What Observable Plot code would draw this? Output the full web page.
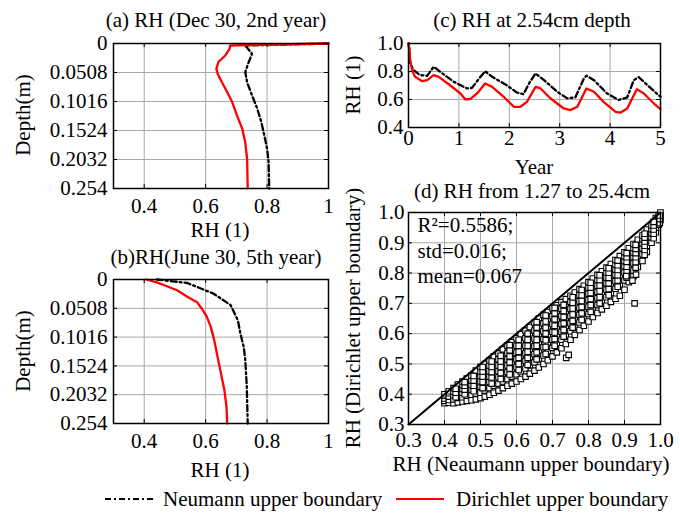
<!DOCTYPE html>
<html><head><meta charset="utf-8">
<script src="https://cdn.jsdelivr.net/npm/d3@7"></script>
<script src="https://cdn.jsdelivr.net/npm/@observablehq/plot@0.6"></script>
<style>
body{margin:0;background:#fff;}
#wrap{position:relative;width:680px;height:515px;font-family:'Liberation Serif','DejaVu Serif',serif;color:#000;overflow:hidden;background:#fff}
.pnl{position:absolute}
.lbl{position:absolute;white-space:nowrap;font-size:21px;line-height:1;font-family:'Liberation Serif','DejaVu Serif',serif;}
</style></head>
<body><div id="wrap"></div>
<script>
// ---------- data ----------
// (a) Dec 30, 2nd year: RH vs depth
const aDepthN = [0, 0.0035, 0.018, 0.033, 0.050, 0.068, 0.091, 0.114, 0.137, 0.161, 0.184, 0.207, 0.254];
const aRHN    = [1.0, 0.729, 0.751, 0.740, 0.729, 0.735, 0.751, 0.768, 0.781, 0.791, 0.800, 0.805, 0.807];
const aDepthD = [0, 0.0035, 0.0094, 0.021, 0.032, 0.044, 0.053, 0.068, 0.085, 0.102, 0.126, 0.149, 0.173, 0.202, 0.254];
const aRHD    = [1.0, 0.680, 0.678, 0.664, 0.642, 0.635, 0.639, 0.653, 0.670, 0.686, 0.702, 0.719, 0.729, 0.735, 0.737];
// (b) June 30, 5th year
const bDepthN = [0, 0.006, 0.025, 0.045, 0.072, 0.095, 0.119, 0.142, 0.189, 0.254];
const bRHN    = [0.441, 0.539, 0.626, 0.681, 0.705, 0.713, 0.724, 0.729, 0.734, 0.737];
const bDepthD = [0, 0.005, 0.012, 0.019, 0.030, 0.040, 0.052, 0.066, 0.084, 0.107, 0.137, 0.166, 0.195, 0.225, 0.254];
const bRHD    = [0.407, 0.441, 0.474, 0.507, 0.539, 0.572, 0.588, 0.604, 0.617, 0.628, 0.639, 0.650, 0.661, 0.668, 0.670];
// (c) RH at 2.54 cm depth vs year
const cYearN = [0, 0.02, 0.03, 0.10, 0.23, 0.37, 0.50, 0.63, 0.90, 1.16, 1.26, 1.40, 1.52, 1.66, 1.95, 2.15, 2.28, 2.41, 2.52, 2.69, 2.95, 3.15, 3.31, 3.48, 3.53, 3.68, 3.94, 4.17, 4.34, 4.47, 4.57, 4.74, 4.97, 5.0];
const cRHN   = [1.0, 0.95, 0.864, 0.81, 0.774, 0.769, 0.834, 0.798, 0.726, 0.679, 0.683, 0.75, 0.802, 0.762, 0.702, 0.650, 0.638, 0.726, 0.786, 0.738, 0.655, 0.608, 0.615, 0.75, 0.770, 0.738, 0.643, 0.597, 0.615, 0.738, 0.760, 0.702, 0.628, 0.620];
const cYearD = [0, 0.02, 0.03, 0.07, 0.13, 0.27, 0.37, 0.50, 0.60, 0.83, 1.03, 1.13, 1.23, 1.36, 1.52, 1.66, 1.89, 2.09, 2.22, 2.35, 2.52, 2.62, 2.82, 3.08, 3.21, 3.35, 3.53, 3.68, 3.87, 4.11, 4.21, 4.34, 4.53, 4.67, 4.87, 5.0];
const cRHD   = [1.0, 0.95, 0.89, 0.81, 0.762, 0.731, 0.738, 0.774, 0.762, 0.70, 0.643, 0.600, 0.605, 0.643, 0.714, 0.69, 0.619, 0.548, 0.548, 0.583, 0.69, 0.679, 0.607, 0.536, 0.524, 0.548, 0.679, 0.655, 0.583, 0.512, 0.507, 0.536, 0.674, 0.643, 0.571, 0.531];
// (d) scatter: Neumann RH (column x) vs Dirichlet RH
const scX = [0.400,0.412,0.425,0.437,0.450,0.462,0.475,0.487,0.500,0.512,0.525,0.537,0.550,0.562,0.575,0.587,0.600,0.612,0.625,0.637,0.650,0.662,0.675,0.687,0.700,0.712,0.725,0.737,0.750,0.762,0.775,0.787,0.800,0.812,0.825,0.837,0.850,0.862,0.875,0.887,0.900,0.912,0.925,0.937,0.950,0.962,0.975,0.987,0.995,1.000];
const scY = [
 [0.370,0.378,0.386,0.395,0.400],
 [0.372,0.381,0.392,0.403,0.410],
 [0.370,0.383,0.396,0.408,0.420],
 [0.373,0.388,0.400,0.414,0.425,0.432],
 [0.376,0.390,0.405,0.418,0.430,0.442],
 [0.378,0.395,0.410,0.424,0.438,0.452],
 [0.380,0.398,0.415,0.430,0.445,0.462],
 [0.383,0.402,0.420,0.437,0.452,0.470,0.478],
 [0.387,0.405,0.425,0.443,0.460,0.475,0.490],
 [0.392,0.412,0.432,0.450,0.468,0.485,0.500],
 [0.398,0.420,0.440,0.458,0.476,0.495,0.512],
 [0.405,0.428,0.448,0.467,0.485,0.505,0.524],
 [0.412,0.435,0.456,0.476,0.495,0.515,0.535],
 [0.420,0.442,0.465,0.485,0.505,0.525,0.548],
 [0.428,0.450,0.473,0.495,0.515,0.536,0.560],
 [0.435,0.458,0.482,0.505,0.526,0.548,0.572],
 [0.442,0.466,0.490,0.515,0.537,0.560,0.585],
 [0.450,0.475,0.500,0.525,0.548,0.572,0.598],
 [0.458,0.485,0.510,0.535,0.560,0.585,0.610],
 [0.468,0.495,0.520,0.546,0.572,0.597,0.622],
 [0.478,0.505,0.532,0.558,0.584,0.610,0.636],
 [0.488,0.516,0.543,0.570,0.596,0.622,0.650],
 [0.500,0.528,0.555,0.582,0.608,0.634,0.662],
 [0.512,0.540,0.567,0.594,0.620,0.646,0.672],
 [0.525,0.553,0.580,0.606,0.632,0.658,0.684],
 [0.538,0.566,0.593,0.619,0.645,0.670,0.694],
 [0.552,0.580,0.606,0.632,0.658,0.682,0.704],
 [0.566,0.594,0.620,0.645,0.670,0.694,0.714],
 [0.580,0.608,0.634,0.658,0.682,0.705,0.725],
 [0.596,0.622,0.648,0.672,0.695,0.716,0.736],
 [0.612,0.637,0.662,0.685,0.707,0.728,0.747],
 [0.626,0.651,0.675,0.698,0.720,0.740,0.758],
 [0.640,0.665,0.689,0.711,0.732,0.752,0.770],
 [0.655,0.680,0.703,0.725,0.745,0.764,0.782],
 [0.668,0.694,0.717,0.738,0.758,0.777,0.794],
 [0.680,0.707,0.731,0.752,0.771,0.789,0.806],
 [0.692,0.720,0.745,0.766,0.785,0.802,0.818],
 [0.705,0.734,0.759,0.780,0.798,0.815,0.830],
 [0.715,0.748,0.773,0.794,0.812,0.828,0.843],
 [0.725,0.762,0.788,0.808,0.826,0.841,0.856],
 [0.745,0.776,0.802,0.822,0.840,0.855,0.869],
 [0.770,0.792,0.817,0.837,0.854,0.869,0.882],
 [0.790,0.808,0.832,0.852,0.868,0.883,0.896],
 [0.820,0.847,0.867,0.883,0.897,0.910],
 [0.840,0.862,0.882,0.898,0.912,0.924],
 [0.870,0.890,0.906,0.920,0.933,0.944],
 [0.900,0.918,0.932,0.945,0.957],
 [0.935,0.950,0.962,0.973,0.982],
 [0.960,0.972,0.983,0.992],
 [0.975,0.988,1.000]
];
// denser core of the band (between the columns above)
const coreX = [0.431,0.456,0.481,0.506,0.531,0.556,0.581,0.606,0.631,0.656,0.681,0.706,0.731,0.756,0.781,0.806,0.831,0.856,0.881,0.906,0.931,0.956,0.981,0.998];
const coreY = [
 [0.390,0.405,0.418],
 [0.400,0.415,0.428,0.440],
 [0.410,0.428,0.445,0.460],
 [0.420,0.440,0.458,0.475,0.490],
 [0.435,0.455,0.473,0.490,0.508],
 [0.450,0.470,0.490,0.508,0.527],
 [0.465,0.485,0.505,0.525,0.545,0.562],
 [0.480,0.500,0.520,0.540,0.560,0.580],
 [0.497,0.520,0.540,0.560,0.580,0.600],
 [0.515,0.538,0.560,0.580,0.600,0.620,0.638],
 [0.533,0.556,0.578,0.600,0.620,0.640,0.660],
 [0.560,0.582,0.604,0.626,0.647,0.667,0.685],
 [0.590,0.612,0.634,0.655,0.675,0.695],
 [0.620,0.642,0.663,0.683,0.702,0.720],
 [0.645,0.667,0.688,0.708,0.727,0.744],
 [0.672,0.694,0.714,0.734,0.752,0.768],
 [0.700,0.720,0.740,0.759,0.777,0.793],
 [0.727,0.747,0.766,0.784,0.801,0.816],
 [0.755,0.775,0.793,0.810,0.826,0.841],
 [0.785,0.804,0.821,0.837,0.852,0.866],
 [0.818,0.836,0.852,0.866,0.880,0.893],
 [0.860,0.876,0.890,0.904,0.917,0.930],
 [0.915,0.930,0.944,0.957,0.969],
 [0.965,0.978,0.990]
];
const outX = [0.738, 0.745, 0.905, 0.922, 0.932, 0.928];
const outY = [0.520, 0.530, 0.790, 0.775, 0.795, 0.700];
const diag = [0.3, 1.0];
const statsText = "R²=0.5586;\nstd=0.016;\nmean=0.067";
// tick values
const rhTicksAB = [0.4, 0.6, 0.8, 1];
const depthTicks = [0, 0.0508, 0.1016, 0.1524, 0.2032, 0.254];
const yearTicks = [0, 1, 2, 3, 4, 5];
const rhTicksC = [0.4, 0.6, 0.8, 1.0];
const rhTicksD = [0.3, 0.4, 0.5, 0.6, 0.7, 0.8, 0.9, 1.0];

// ---------- build tables ----------
const zip = (xs, ys) => xs.map((x, i) => ({x, y: ys[i]}));
const cols = (xs, yss) => xs.flatMap((x, i) => yss[i].map(y => ({x, y})));
const scatter = cols(scX, scY).concat(cols(coreX, coreY), zip(outX, outY));

const RED = "#ff0000";
const dashDot = "6,3,2,3";
const FONT = "'Liberation Serif', 'DejaVu Serif', serif";
const wrap = document.getElementById("wrap");

function panel(c) {
  const innerW = c.width - c.ml - c.mr, innerH = c.height - c.mt - c.mb;
  const gridStyle = {stroke: "#a8a8a8", strokeOpacity: 1, strokeWidth: 1};
  const svg = Plot.plot({
    width: c.width, height: c.height,
    marginTop: c.mt, marginRight: c.mr, marginBottom: c.mb, marginLeft: c.ml,
    style: {fontFamily: FONT, fontSize: "21px", color: "black", background: "transparent", overflow: "visible"},
    x: {domain: c.xDomain},
    y: {domain: c.yDomain, reverse: !!c.yReverse},
    marks: [
      Plot.gridX(c.xTicks, gridStyle),
      Plot.gridY(c.yTicks, gridStyle),
      ...c.marks,
      Plot.ruleX(c.xTicks, {x: d => d, insetTop: innerH - 4, stroke: "black"}),
      Plot.ruleX(c.xTicks, {x: d => d, insetBottom: innerH - 4, stroke: "black"}),
      Plot.ruleY(c.yTicks, {y: d => d, insetRight: innerW - 4, stroke: "black"}),
      Plot.ruleY(c.yTicks, {y: d => d, insetLeft: innerW - 4, stroke: "black"}),
      Plot.frame({stroke: "black", strokeWidth: 1.5}),
      Plot.axisX(c.xTicks, {anchor: "bottom", tickSize: 0, tickPadding: c.xPad, tickFormat: c.xFmt, fontSize: 21, fontFamily: FONT, label: null}),
      Plot.axisY(c.yTicks, {anchor: "left", tickSize: 0, tickPadding: c.yPad, tickFormat: c.yFmt, fontSize: 21, fontFamily: FONT, label: null})
    ]
  });
  const div = document.createElement("div");
  div.className = "pnl";
  div.style.left = c.left + "px"; div.style.top = c.top + "px";
  div.style.width = c.width + "px"; div.style.height = c.height + "px";
  div.appendChild(svg);
  wrap.appendChild(div);
}

function text(t, x, y, rot, size) {
  const d = document.createElement("div");
  d.className = "lbl";
  d.textContent = t;
  d.style.left = x + "px"; d.style.top = y + "px";
  if (size) d.style.fontSize = size + "px";
  d.style.transform = "translate(-50%,-50%)" + (rot ? " rotate(" + rot + "deg)" : "");
  wrap.appendChild(d);
}

const depthFmt = d => String(d);
const lineN = (xs, ys) => Plot.line(zip(xs, ys), {x: "x", y: "y", stroke: "black", strokeWidth: 2.3, strokeDasharray: dashDot});
const lineD = (xs, ys) => Plot.line(zip(xs, ys), {x: "x", y: "y", stroke: RED, strokeWidth: 2.3});

// (a)
panel({left: 0, top: 30, width: 340, height: 190, mt: 13, mr: 12, mb: 32, ml: 113,
  xDomain: [0.3, 1], yDomain: [0, 0.254], yReverse: true,
  xTicks: rhTicksAB, yTicks: depthTicks, xFmt: d => String(d), yFmt: depthFmt, xPad: 10, yPad: 6,
  marks: [lineN(aRHN, aDepthN), lineD(aRHD, aDepthD)]});
// (b)
panel({left: 0, top: 266, width: 340, height: 189, mt: 13, mr: 12, mb: 32, ml: 113,
  xDomain: [0.3, 1], yDomain: [0, 0.254], yReverse: true,
  xTicks: rhTicksAB, yTicks: depthTicks, xFmt: d => String(d), yFmt: depthFmt, xPad: 10, yPad: 6,
  marks: [lineN(bRHN, bDepthN), lineD(bRHD, bDepthD)]});
// (c)
panel({left: 340, top: 30, width: 340, height: 129, mt: 13, mr: 20, mb: 32, ml: 68,
  xDomain: [0, 5], yDomain: [0.4, 1.0],
  xTicks: yearTicks, yTicks: rhTicksC, xFmt: d => String(d), yFmt: d => d.toFixed(1), xPad: 3, yPad: 5,
  marks: [lineN(cYearN, cRHN), lineD(cYearD, cRHD)]});
// (d)
panel({left: 340, top: 200, width: 340, height: 256, mt: 12, mr: 20, mb: 32, ml: 68,
  xDomain: [0.3, 1.0], yDomain: [0.3, 1.0],
  xTicks: rhTicksD, yTicks: rhTicksD, xFmt: d => d.toFixed(1), yFmt: d => d.toFixed(1), xPad: 8, yPad: 4,
  marks: [
    Plot.dot(scatter, {x: "x", y: "y", symbol: "square", r: 3.1, fill: "white", stroke: "#000", strokeWidth: 1.1}),
    Plot.line(diag, {x: d => d, y: d => d, stroke: "black", strokeWidth: 2}),
    Plot.text([statsText], {text: d => d, frameAnchor: "top-left", dx: 9, dy: 2, textAnchor: "start", lineAnchor: "top", lineHeight: 1.2, fontSize: 21, fontFamily: FONT, fill: "black"})
  ]});

// titles & axis labels
text("(a) RH (Dec 30, 2nd year)", 216, 20);
text("RH (1)", 220, 230);
text("Depth(m)", 23, 115, -90);
text("(b)RH(June 30, 5th year)", 216, 257);
text("RH (1)", 220, 470);
text("Depth(m)", 23, 351, -90);
text("(c) RH at 2.54cm depth", 532, 20);
text("Year", 534, 167);
text("RH (1)", 353, 85, -90);
text("(d) RH from 1.27 to 25.4cm", 532, 191);
text("RH (Neaumann upper boundary)", 531, 464);
text("RH (Dirichlet upper boundary)", 353, 318, -90);

// legend
const leg = document.createElement("div");
leg.style.cssText = "position:absolute;left:0;top:486px;width:680px;height:26px;";
leg.innerHTML =
  '<svg width="680" height="26" style="position:absolute;left:0;top:0">' +
  '<line x1="105" x2="156" y1="13" y2="13" stroke="black" stroke-width="2.2" stroke-dasharray="' + dashDot + '"/>' +
  '<line x1="396" x2="444" y1="13" y2="13" stroke="' + RED + '" stroke-width="2.2"/></svg>' +
  '<div class="lbl" style="left:163px;top:3px">Neumann upper boundary</div>' +
  '<div class="lbl" style="left:456px;top:3px">Dirichlet upper boundary</div>';
wrap.appendChild(leg);
</script></body></html>
